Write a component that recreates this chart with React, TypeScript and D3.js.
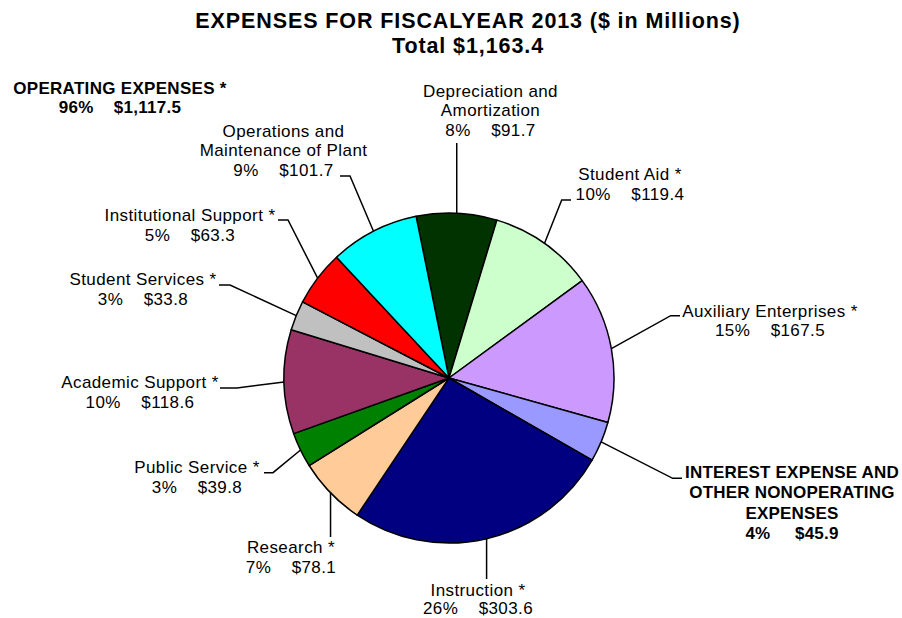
import React from "react";
import * as d3 from "d3";

const WIDTH = 902;
const HEIGHT = 618;
const CX = 449;
const CY = 378;
const RADIUS = 165;
const START_DEG = -11.5;

// slice order clockwise from the top
const categories = [
  "Depreciation and\nAmortization",
  "Student Aid *",
  "Auxiliary Enterprises *",
  "INTEREST EXPENSE AND\nOTHER NONOPERATING\nEXPENSES",
  "Instruction *",
  "Research *",
  "Public Service *",
  "Academic Support *",
  "Student Services *",
  "Institutional Support *",
  "Operations and\nMaintenance of Plant",
];
const values = [91.7, 119.4, 167.5, 45.9, 303.6, 78.1, 39.8, 118.6, 33.8, 63.3, 101.7];
const percents = ["8%", "10%", "15%", "4%", "26%", "7%", "3%", "10%", "3%", "5%", "9%"];
const colors = [
  "#003300", "#CCFFCC", "#CC99FF", "#9999FF", "#000080", "#FFCC99",
  "#008000", "#993366", "#C0C0C0", "#FF0000", "#00FFFF",
];
const boldLabels = [false, false, false, true, false, false, false, false, false, false, false];

const operatingLabel = "OPERATING EXPENSES *";
const operatingPercent = "96%";
const operatingValue = 1117.5;
const titleLines = ["EXPENSES FOR FISCALYEAR 2013 ($ in Millions)", "Total $1,163.4"];

// label placement: text centre, first baseline, line height, leader elbow and end
type Layout = {
  x: number;
  y: number;
  lh?: number;
  elbow: [number, number] | null;
  end: [number, number] | null;
  endY?: number;
};
const layout: Layout[] = [
  { x: 490.5, y: 96.7, elbow: null, end: null, endY: 143 },
  { x: 630, y: 180, elbow: [561.7, 200], end: [571, 200] },
  { x: 770, y: 316.7, elbow: [670.7, 315.7], end: [680, 315.7] },
  { x: 792, y: 478, elbow: [672.7, 478.3], end: [682, 478.3] },
  { x: 478, y: 595.5, lh: 18, elbow: null, end: null, endY: 579 },
  { x: 291, y: 553.3, elbow: null, end: null, endY: 537 },
  { x: 197, y: 473, elbow: [273, 472.7], end: [264, 472.7] },
  { x: 140, y: 388, elbow: [237, 388], end: [220, 388] },
  { x: 143, y: 285, elbow: [230, 285], end: [219, 285] },
  { x: 190, y: 221, elbow: [288, 220], end: [278, 220] },
  { x: 283.5, y: 136.7, elbow: [350, 176], end: [340, 176] },
];

const fmt = d3.format(",.1f");
const FONT = "Liberation Sans, Arial, sans-serif";

export default function App() {
  const start = (START_DEG * Math.PI) / 180;
  const pie = d3
    .pie<number>()
    .sort(null)
    .value((d) => d)
    .startAngle(start)
    .endAngle(start + 2 * Math.PI);
  const arcs = pie(values);
  const arcGen = d3.arc<d3.PieArcDatum<number>>().innerRadius(0).outerRadius(RADIUS);
  const edgeGen = d3.arc<d3.PieArcDatum<number>>().innerRadius(RADIUS).outerRadius(RADIUS);

  const gap = "\u00a0\u00a0\u00a0\u00a0";

  return (
    <svg
      width={WIDTH}
      height={HEIGHT}
      style={{ position: "absolute", left: 0, top: 0, background: "#fff" }}
      fontFamily={FONT}
    >
      <rect width={WIDTH} height={HEIGHT} fill="#fff" />
      {titleLines.map((t, i) => (
        <text
          key={t}
          x={468}
          y={28 + i * 25}
          textAnchor="middle"
          fontWeight="bold"
          fontSize={21.5}
          letterSpacing={0.9}
        >
          {t}
        </text>
      ))}

      <g transform={`translate(${CX},${CY})`}>
        {arcs.map((a, i) => (
          <path key={i} d={arcGen(a) || ""} fill={colors[i]} stroke="#000" strokeWidth={1.5} strokeLinejoin="round" />
        ))}
      </g>

      {arcs.map((a, i) => {
        const [ex, ey] = edgeGen.centroid(a);
        const sx = CX + ex;
        const sy = CY + ey;
        const l = layout[i];
        const pts: [number, number][] = [[sx, sy]];
        if (l.elbow && l.end) {
          pts.push(l.elbow, l.end);
        } else if (l.endY !== undefined) {
          pts.push([sx, l.endY]);
        }
        const lines = categories[i].split("\n");
        const bold = boldLabels[i];
        const lh = l.lh ?? (bold ? 20.3 : 19.5);
        const all = [...lines, `${percents[i]}${bold ? gap + "\u00a0" : gap}$${fmt(values[i])}`];
        return (
          <g key={i}>
            <path d={d3.line()(pts) || ""} fill="none" stroke="#000" strokeWidth={1.5} />
            {all.map((t, j) => (
              <text
                key={j}
                x={l.x}
                y={l.y + j * lh}
                textAnchor="middle"
                fontSize={17}
                fontWeight={bold ? "bold" : "normal"}
                letterSpacing={bold ? 0.2 : 0.4}
              >
                {t}
              </text>
            ))}
          </g>
        );
      })}

      <text x={120} y={94} textAnchor="middle" fontSize={17} fontWeight="bold" letterSpacing={0.3}>
        {operatingLabel}
      </text>
      <text x={120} y={113.3} textAnchor="middle" fontSize={17} fontWeight="bold" letterSpacing={0.3}>
        {`${operatingPercent}${gap}$${fmt(operatingValue)}`}
      </text>
    </svg>
  );
}
